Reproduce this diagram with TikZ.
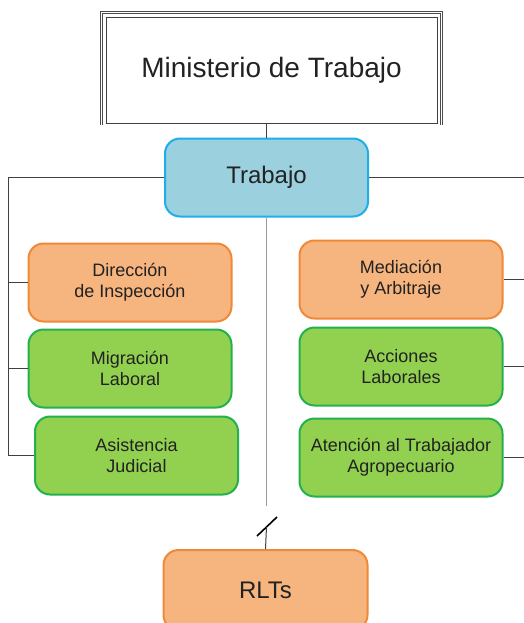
\documentclass[tikz,border=0pt]{standalone}
\usepackage{fontspec}
\setmainfont{Liberation Sans}
\definecolor{orfill}{RGB}{246,180,126}
\definecolor{ordraw}{RGB}{240,137,54}
\definecolor{grfill}{RGB}{146,208,80}
\definecolor{grdraw}{RGB}{34,177,76}
\definecolor{blfill}{RGB}{155,208,222}
\definecolor{bldraw}{RGB}{30,174,232}
\definecolor{linegray}{RGB}{64,64,64}
\definecolor{textgray}{RGB}{34,34,34}
\tikzset{
  unit/.style={rounded corners=15pt, line width=2pt, minimum width=203pt,
    minimum height=78pt, align=center, text=textgray,
    font=\fontsize{18}{21}\selectfont},
  orbox/.style={unit, draw=ordraw, fill=orfill},
  grbox/.style={unit, draw=grdraw, fill=grfill},
  conn/.style={draw=linegray, line width=1pt}
}
\begin{document}
\begin{tikzpicture}[x=1pt,y=-1pt]
\useasboundingbox (0,0) rectangle (524,623);
% top frame
\node[text=textgray, font=\fontsize{28}{32}\selectfont] (min) at (271.5,70) {Ministerio de Trabajo};
\draw[draw=gray!60!black, line width=1pt, double, double distance=1.6pt] (101.5,125) -- (101.5,12.5) -- (441.5,12.5) -- (441.5,125);
\draw[draw=linegray, line width=0.8pt] (106.5,17) rectangle (437,123.5);
\coordinate (minb) at (266.5,123.5);

\node[unit, draw=bldraw, fill=blfill, font=\fontsize{24}{28}\selectfont] (trab) at (266.5,177.5) {Trabajo};

\node[orbox] (dir) at (130,282.5) {Dirección\\de Inspección};
\node[grbox] (mig) at (130,368.5) {Migración\\Laboral};
\node[grbox] (asis) at (136.5,455.5) {Asistencia\\Judicial};

\node[orbox] (med) at (401,279.5) {Mediación\\y Arbitraje};
\node[grbox] (acc) at (401,366.5) {Acciones\\Laborales};
\node[grbox] (aten) at (401,457.5) {Atención al Trabajador\\Agropecuario};

\node[orbox, minimum width=204pt, minimum height=80pt, font=\fontsize{24}{28}\selectfont] (rlt) at (265.5,590) {RLTs};

% connectors
\draw[conn] (minb) -- (trab.north);
\coordinate (lt) at (8,177.5);
\coordinate (rt) at (524,177.5);
\draw[conn] (trab.west) -- (lt) |- (asis.west);
\draw[conn] (lt |- dir.west) -- (dir.west);
\draw[conn] (lt |- mig.west) -- (mig.west);
\draw[conn] (trab.east) -- (rt);
\draw[conn] (med.east) -- (med.east -| rt);
\draw[conn] (acc.east) -- (acc.east -| rt);
\draw[conn] (aten.east) -- (aten.east -| rt);

\coordinate (gapa) at (266.5,506);
\coordinate (gapb) at (266.5,527);
\coordinate (sla) at (257,536);
\coordinate (slb) at (277,517);
\draw[draw=gray!80, line width=1.2pt] (trab.south) -- (gapa);
\draw[line width=1.6pt] (sla) -- (slb);
\draw[conn] (gapb) -- (rlt.north);
\end{tikzpicture}
\end{document}
